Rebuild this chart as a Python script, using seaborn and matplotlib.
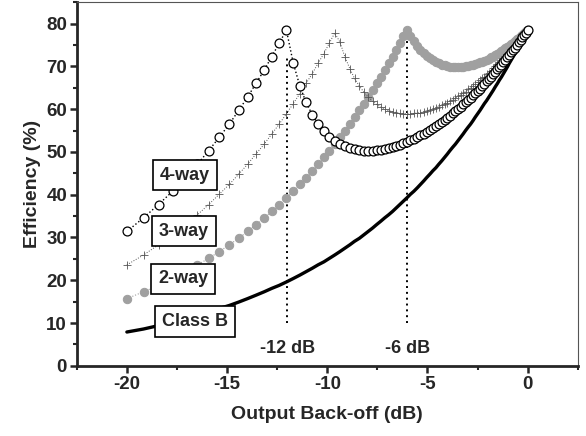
import matplotlib
matplotlib.use("Agg")
import matplotlib.pyplot as plt
import seaborn as sns
import pandas as pd
from matplotlib.ticker import MultipleLocator

# output back-off (dB) of the sampled drive levels
obo_db = [-20.00, -19.17, -18.42, -17.72, -17.08, -16.48, -15.92, -15.39, -14.89, -14.42,
          -13.98, -13.56, -13.15, -12.77, -12.40, -12.04, -11.70, -11.37, -11.06, -10.75,
          -10.46, -10.17, -9.90, -9.63, -9.37, -9.12, -8.87, -8.64, -8.40, -8.18,
          -7.96, -7.74, -7.54, -7.33, -7.13, -6.94, -6.74, -6.56, -6.38, -6.20,
          -6.02, -5.85, -5.68, -5.51, -5.35, -5.19, -5.04, -4.88, -4.73, -4.58,
          -4.44, -4.29, -4.15, -4.01, -3.88, -3.74, -3.61, -3.48, -3.35, -3.22,
          -3.10, -2.97, -2.85, -2.73, -2.62, -2.50, -2.38, -2.27, -2.16, -2.05,
          -1.94, -1.83, -1.72, -1.62, -1.51, -1.41, -1.31, -1.21, -1.11, -1.01,
          -0.92, -0.82, -0.72, -0.63, -0.54, -0.45, -0.35, -0.27, -0.18, -0.09,
          0.00]

eff_class_b = [7.9, 8.6, 9.4, 10.2, 11.0, 11.8, 12.6, 13.4, 14.1, 14.9,
               15.7, 16.5, 17.3, 18.1, 18.8, 19.6, 20.4, 21.2, 22.0, 22.8,
               23.6, 24.3, 25.1, 25.9, 26.7, 27.5, 28.3, 29.1, 29.8, 30.6,
               31.4, 32.2, 33.0, 33.8, 34.6, 35.3, 36.1, 36.9, 37.7, 38.5,
               39.3, 40.1, 40.8, 41.6, 42.4, 43.2, 44.0, 44.8, 45.6, 46.3,
               47.1, 47.9, 48.7, 49.5, 50.3, 51.1, 51.8, 52.6, 53.4, 54.2,
               55.0, 55.8, 56.5, 57.3, 58.1, 58.9, 59.7, 60.5, 61.3, 62.0,
               62.8, 63.6, 64.4, 65.2, 66.0, 66.8, 67.5, 68.3, 69.1, 69.9,
               70.7, 71.5, 72.3, 73.0, 73.8, 74.6, 75.4, 76.2, 77.0, 77.8,
               78.5]

eff_2way = [15.7, 17.3, 18.8, 20.4, 22.0, 23.6, 25.1, 26.7, 28.3, 29.8,
            31.4, 33.0, 34.6, 36.1, 37.7, 39.3, 40.8, 42.4, 44.0, 45.6,
            47.1, 48.7, 50.3, 51.8, 53.4, 55.0, 56.5, 58.1, 59.7, 61.3,
            62.8, 64.4, 66.0, 67.5, 69.1, 70.7, 72.3, 73.8, 75.4, 77.0,
            78.5, 77.1, 75.9, 74.8, 73.9, 73.1, 72.4, 71.9, 71.4, 71.0,
            70.7, 70.4, 70.2, 70.1, 69.9, 69.9, 69.8, 69.8, 69.8, 69.9,
            70.0, 70.1, 70.2, 70.3, 70.5, 70.7, 70.9, 71.1, 71.3, 71.6,
            71.8, 72.1, 72.3, 72.6, 72.9, 73.2, 73.5, 73.9, 74.2, 74.5,
            74.8, 75.2, 75.5, 75.9, 76.3, 76.6, 77.0, 77.4, 77.8, 78.2,
            78.5]

eff_3way = [23.6, 25.9, 28.3, 30.6, 33.0, 35.3, 37.7, 40.1, 42.4, 44.8,
            47.1, 49.5, 51.8, 54.2, 56.5, 58.9, 61.3, 63.6, 66.0, 68.3,
            70.7, 73.0, 75.4, 77.8, 75.7, 72.2, 69.4, 67.2, 65.4, 64.0,
            62.8, 61.9, 61.1, 60.5, 60.0, 59.6, 59.4, 59.2, 59.0, 58.9,
            58.9, 58.9, 59.0, 59.1, 59.2, 59.4, 59.6, 59.8, 60.1, 60.3,
            60.6, 60.9, 61.2, 61.5, 61.9, 62.2, 62.6, 63.0, 63.3, 63.7,
            64.1, 64.6, 65.0, 65.4, 65.8, 66.3, 66.7, 67.2, 67.6, 68.1,
            68.5, 69.0, 69.5, 70.0, 70.5, 70.9, 71.4, 71.9, 72.4, 72.9,
            73.4, 73.9, 74.4, 74.9, 75.4, 75.9, 76.5, 77.0, 77.5, 78.0,
            78.5]

eff_4way = [31.4, 34.6, 37.7, 40.8, 44.0, 47.1, 50.3, 53.4, 56.5, 59.7,
            62.8, 66.0, 69.1, 72.3, 75.4, 78.5, 70.8, 65.4, 61.6, 58.7,
            56.5, 54.9, 53.6, 52.6, 51.9, 51.3, 50.9, 50.6, 50.4, 50.3,
            50.3, 50.3, 50.4, 50.5, 50.7, 50.9, 51.1, 51.4, 51.7, 52.0,
            52.4, 52.7, 53.1, 53.5, 53.9, 54.3, 54.7, 55.2, 55.6, 56.1,
            56.5, 57.0, 57.5, 58.0, 58.5, 59.0, 59.5, 60.0, 60.5, 61.1,
            61.6, 62.1, 62.6, 63.2, 63.7, 64.3, 64.8, 65.4, 65.9, 66.5,
            67.0, 67.6, 68.1, 68.7, 69.3, 69.8, 70.4, 71.0, 71.6, 72.1,
            72.7, 73.3, 73.9, 74.4, 75.0, 75.6, 76.2, 76.8, 77.4, 77.9,
            78.5]

# peak markers: back-off (dB), top of dotted line (%), label
peak_db = [-12, -6]
peak_top = [72.5, 78.0]
peak_labels = ["-12 dB", "-6 dB"]

# boxed curve labels
curve_labels = ["4-way", "3-way", "2-way", "Class B"]
label_x = [-17.1, -17.15, -17.2, -16.6]
label_y = [44.6, 31.5, 20.3, 10.3]

df = pd.DataFrame({"obo": obo_db, "classb": eff_class_b, "w2": eff_2way,
                   "w3": eff_3way, "w4": eff_4way})

sns.set_style("ticks")
plt.rcParams['font.family'] = ['Liberation Sans', 'DejaVu Sans']
plt.rcParams['font.weight'] = 'bold'
plt.rcParams['axes.unicode_minus'] = False

fig = plt.figure(figsize=(5.86, 4.36), dpi=100)
ax = fig.add_axes([0.131, 0.161, 0.855, 0.834])

sns.lineplot(data=df, x="obo", y="classb", ax=ax, color="black", lw=2.4,
             estimator=None, sort=False, zorder=2)
sns.lineplot(data=df, x="obo", y="w2", ax=ax, color="#a0a0a0", lw=0.8,
             linestyle=":", marker="o", markersize=6, markerfacecolor="#a0a0a0",
             markeredgecolor="#a0a0a0", estimator=None, sort=False, zorder=3)
sns.lineplot(data=df, x="obo", y="w3", ax=ax, color="#555555", lw=0.7,
             linestyle=":", marker="+", markersize=6, markeredgewidth=0.6,
             markeredgecolor="#555555", estimator=None, sort=False, zorder=4)
sns.lineplot(data=df, x="obo", y="w4", ax=ax, color="black", lw=1.0,
             linestyle=":", marker="o", markersize=6.4, markerfacecolor="white",
             markeredgecolor="black", markeredgewidth=0.9,
             estimator=None, sort=False, zorder=5)

for xd, top, lab in zip(peak_db, peak_top, peak_labels):
    ax.vlines(xd, 10, top, colors="black", linestyles=(0, (1, 2)), lw=1.4, zorder=1)
    ax.text(xd, 4.0, lab, ha="center", va="center", fontsize=13, fontweight="bold")

for lab, lx, ly in zip(curve_labels, label_x, label_y):
    ax.text(lx, ly, lab, ha="center", va="center", fontsize=13, fontweight="bold",
            zorder=10,
            bbox=dict(boxstyle="square,pad=0.38", fc="white", ec="black", lw=1.2))

ax.set_xlim(-22.5, 2.5)
ax.set_ylim(0, 85)
ax.xaxis.set_major_locator(MultipleLocator(5))
ax.xaxis.set_minor_locator(MultipleLocator(2.5))
ax.yaxis.set_major_locator(MultipleLocator(10))
ax.yaxis.set_minor_locator(MultipleLocator(5))
ax.tick_params(which="major", direction="out", length=5, width=1.8, labelsize=13.5, pad=2)
ax.tick_params(which="minor", direction="out", length=3, width=1.5)
for lbl in ax.get_xticklabels() + ax.get_yticklabels():
    lbl.set_fontweight("bold")

ax.spines["left"].set_linewidth(2)
ax.spines["bottom"].set_linewidth(2)
ax.spines["top"].set_linewidth(0.8)
ax.spines["right"].set_linewidth(0.8)
ax.spines["top"].set_color("#555555")
ax.spines["right"].set_color("#555555")

ax.set_xlabel("Output Back-off (dB)", fontsize=14, fontweight="bold", labelpad=10)
ax.set_ylabel("Efficiency (%)", fontsize=14, fontweight="bold", labelpad=4)

fig.savefig("out.png", dpi=100)
